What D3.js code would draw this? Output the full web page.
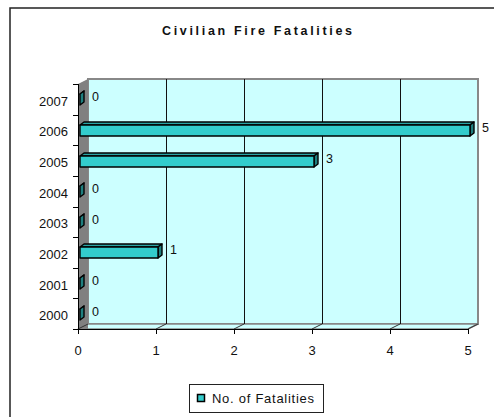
<!DOCTYPE html>
<html><head><meta charset="utf-8">
<script src="https://cdn.jsdelivr.net/npm/d3@7"></script>
<style>html,body{margin:0;padding:0;background:#fff;}svg{display:block;font-family:Arial,"Liberation Sans",sans-serif;}</style>
</head><body>
<script>
const categories = ["2000","2001","2002","2003","2004","2005","2006","2007"];
const values = [0,0,1,0,0,3,5,0];
const xTicks = [0,1,2,3,4,5];
const title = "Civilian Fire Fatalities";
const seriesName = "No. of Fatalities";

const W=494,H=417;
const svg=d3.select("body").append("svg").attr("width",W).attr("height",H);
svg.append("rect").attr("width",W).attr("height",H).attr("fill","#fff");
// outer frame (right/bottom beyond view)
svg.append("rect").attr("x",10).attr("y",8).attr("width",W+20).attr("height",H+20)
  .attr("fill","none").attr("stroke","#222").attr("stroke-width",1.5);

svg.append("text").attr("x",257).attr("y",31).attr("text-anchor","middle").attr("dominant-baseline","central")
  .attr("font-weight","bold").attr("font-size",12.5).attr("textLength",190).attr("lengthAdjust","spacing")
  .attr("fill","#111").text(title);

const x = d3.scaleLinear().domain([0,5]).range([78,468]);
const y = d3.scaleBand().domain(categories.slice().reverse()).range([84,329]);
const DX=10, DY=-5;
const bx0=2, bdx=4, bdy=-3, bh=11;
const p = 0.5;

// back wall
svg.append("rect").attr("x",x(0)+DX).attr("y",y.range()[0]+DY).attr("width",x(5)-x(0)).attr("height",y.range()[1]-y.range()[0])
  .attr("fill","#ccffff").attr("stroke","#888").attr("stroke-width",2);
// side wall
svg.append("polygon").attr("points",[[x(0),84],[x(0)+DX,84+DY],[x(0)+DX,329+DY],[x(0),329]].join(" "))
  .attr("fill","#808080");
// floor
svg.append("polygon").attr("points",[[x(0),329],[x(0)+DX,329+DY],[x(5)+DX,329+DY],[x(5),329]].join(" "))
  .attr("fill","#ccffff").attr("stroke","#888").attr("stroke-width",1.5);
svg.append("rect").attr("x",x(0)).attr("y",329+DY+1).attr("width",DX).attr("height",4).attr("fill","#808080");
// gridlines
xTicks.forEach(t=>{
  if(t>0 && t<5) svg.append("line").attr("x1",x(t)+DX+p).attr("x2",x(t)+DX+p).attr("y1",84+DY).attr("y2",329+DY).attr("stroke","#111").attr("stroke-width",1);
  svg.append("line").attr("x1",x(t)).attr("y1",329).attr("x2",x(t)+DX).attr("y2",329+DY).attr("stroke","#333").attr("stroke-width",1);
});
// x axis
svg.append("line").attr("x1",x(0)).attr("x2",x(5)).attr("y1",329+p).attr("y2",329+p).attr("stroke","#000");
xTicks.forEach(t=>{
  svg.append("line").attr("x1",x(t)+p).attr("x2",x(t)+p).attr("y1",329).attr("y2",334).attr("stroke","#000");
  svg.append("text").attr("x",x(t)).attr("y",350).attr("text-anchor","middle").attr("dominant-baseline","central")
    .attr("font-size",13).attr("fill","#111").text(t);
});
// y axis
svg.append("line").attr("x1",x(0)+p).attr("x2",x(0)+p).attr("y1",84).attr("y2",329).attr("stroke","#000");
const bounds = y.domain().map(c=>y(c)).concat([329]);
bounds.forEach(b=>svg.append("line").attr("x1",x(0)-5).attr("x2",x(0)).attr("y1",Math.round(b)+p).attr("y2",Math.round(b)+p).attr("stroke","#000"));
categories.forEach(c=>{
  svg.append("text").attr("x",68).attr("y",y(c)+y.bandwidth()/2+2).attr("text-anchor","end").attr("dominant-baseline","central")
    .attr("font-size",13).attr("fill","#111").text(c);
});
// bars
const unit = x(1)-x(0);
categories.forEach((c,i)=>{
  const v=values[i];
  const x0=x(0)+bx0, x1=x0+unit*v;
  const yc=Math.round(y(c)+y.bandwidth()/2)+p, yt=yc-bh/2, yb=yc+bh/2;
  const g=svg.append("g").attr("stroke","#000").attr("stroke-width",1.4).attr("stroke-linejoin","round");
  g.append("polygon").attr("points",[[x0,yt],[x0+bdx,yt+bdy],[x1+bdx,yt+bdy],[x1,yt]].join(" ")).attr("fill","#29a3a3");
  g.append("polygon").attr("points",[[x1,yt],[x1+bdx,yt+bdy],[x1+bdx,yb+bdy],[x1,yb]].join(" ")).attr("fill","#1f7f7f");
  g.append("rect").attr("x",x0).attr("y",yt).attr("width",x1-x0).attr("height",bh).attr("fill","#33cccc");
  svg.append("text").attr("x",x1+12).attr("y",yc-3).attr("dominant-baseline","central")
    .attr("font-size",12.5).attr("fill","#111").text(v);
});
// legend
svg.append("rect").attr("x",189.5).attr("y",384.5).attr("width",134).attr("height",28).attr("fill","#fff").attr("stroke","#222");
svg.append("rect").attr("x",197.5).attr("y",394.5).attr("width",7).attr("height",7).attr("fill","#33cccc").attr("stroke","#000").attr("stroke-width",1.5);
svg.append("text").attr("x",212).attr("y",398).attr("dominant-baseline","central").attr("font-size",13)
  .attr("textLength",102).attr("lengthAdjust","spacing").attr("fill","#111").text(seriesName);
</script>
</body></html>
